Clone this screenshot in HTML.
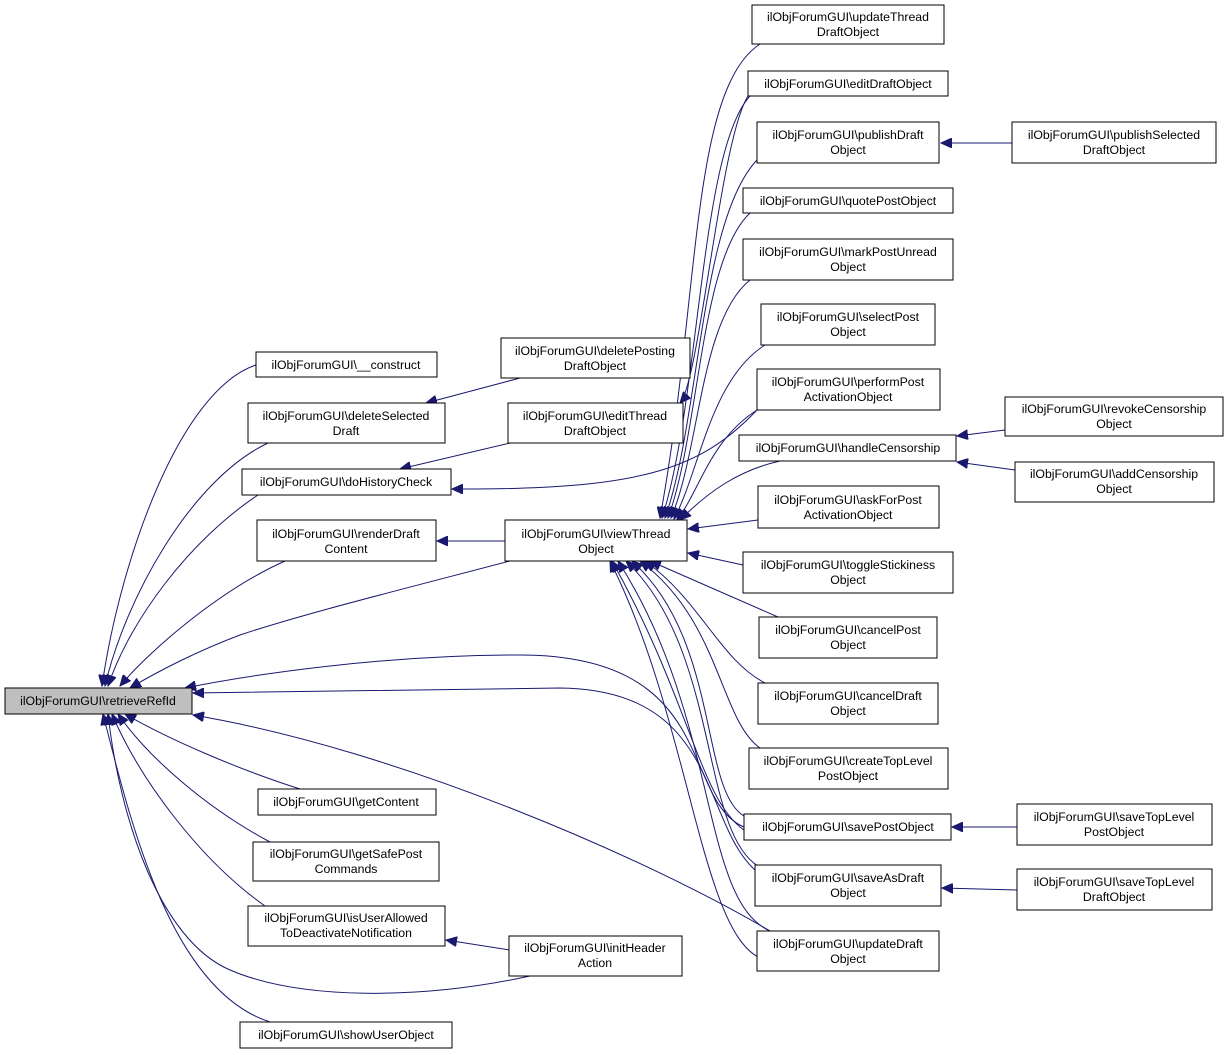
<!DOCTYPE html>
<html><head><meta charset="utf-8"><style>
body{margin:0;background:#fff}
svg{display:block}
text{font-family:"Liberation Sans",Arial,sans-serif;font-size:12.3px;fill:#000;text-anchor:middle}
rect{fill:#fff;stroke:#000;stroke-width:1}
path{fill:none;stroke:#191970;stroke-width:1}
</style></head><body>
<svg width="1229" height="1055" viewBox="0 0 1229 1055" xmlns="http://www.w3.org/2000/svg">
<defs><marker id="a" markerWidth="12" markerHeight="10" refX="11" refY="5" orient="auto" markerUnits="userSpaceOnUse"><path d="M0,0 L11,5 L0,10 Z" style="fill:#191970;stroke:#191970"/></marker></defs>
<g marker-end="url(#a)">
<path d="M256,365 C180,390 120,560 102,686"/>
<path d="M268,443 C190,480 125,600 105,686"/>
<path d="M258,495 C190,540 130,620 108,686"/>
<path d="M285,561 C220,590 150,650 120,686"/>
<path d="M510,561 C380,595 300,615 240,635 C200,650 160,670 130,688"/>
<path d="M744,827 C680,800 720,655 520,655 C380,655 250,675 185,688"/>
<path d="M755,870 C700,820 720,690 560,688 L193,693"/>
<path d="M770,931 C650,860 400,750 193,715"/>
<path d="M300,789 C240,770 170,740 125,714"/>
<path d="M270,842 C210,810 150,760 118,714"/>
<path d="M265,906 C200,860 140,780 112,714"/>
<path d="M530,976 C420,1000 300,1000 230,970 C160,940 120,820 108,714"/>
<path d="M270,1022 C170,990 130,820 103,714"/>
<path d="M520,378 L426,403"/>
<path d="M510,443 L400,469"/>
<path d="M505,541 L437,541"/>
<path d="M757,410 C700,470 640,490 452,489"/>
<path d="M748,96 C720,140 700,380 680,403"/>
<path d="M760,44 C690,90 700,300 660,518"/>
<path d="M750,96 C700,150 700,400 662,518"/>
<path d="M757,160 C700,220 700,420 665,518"/>
<path d="M750,213 C700,260 700,430 668,518"/>
<path d="M750,280 C700,320 700,450 671,518"/>
<path d="M765,345 C710,380 700,470 674,519"/>
<path d="M757,410 C710,440 700,490 677,520"/>
<path d="M780,461 C740,470 710,490 680,520"/>
<path d="M758,520 L688,529"/>
<path d="M743,565 L688,553"/>
<path d="M778,617 L650,561"/>
<path d="M765,683 C720,660 700,600 645,561"/>
<path d="M760,748 C720,720 720,620 640,561"/>
<path d="M744,816 C700,790 720,640 632,561"/>
<path d="M758,866 C700,830 720,650 626,561"/>
<path d="M770,931 C700,900 720,720 618,561"/>
<path d="M744,830 C700,800 690,700 612,561"/>
<path d="M760,958 C700,930 690,720 610,561"/>
<path d="M1012,143 L941,143"/>
<path d="M1005,430 L957,436"/>
<path d="M1015,470 L957,462"/>
<path d="M1017,827 L952,827"/>
<path d="M1017,890 L942,888"/>
<path d="M510,950 L446,940"/>
</g>
<rect x="5" y="688" width="187" height="26" style="fill:#bfbfbf"/><text x="98" y="705">ilObjForumGUI\retrieveRefId</text>
<rect x="256" y="352" width="181" height="25"/><text x="346" y="369">ilObjForumGUI\__construct</text>
<rect x="248" y="403" width="197" height="40"/><text x="346" y="420">ilObjForumGUI\deleteSelected</text><text x="346" y="435">Draft</text>
<rect x="242" y="469" width="209" height="26"/><text x="346" y="486">ilObjForumGUI\doHistoryCheck</text>
<rect x="257" y="520" width="179" height="41"/><text x="346" y="538">ilObjForumGUI\renderDraft</text><text x="346" y="553">Content</text>
<rect x="258" y="789" width="178" height="26"/><text x="346" y="806">ilObjForumGUI\getContent</text>
<rect x="253" y="842" width="186" height="39"/><text x="346" y="858">ilObjForumGUI\getSafePost</text><text x="346" y="873">Commands</text>
<rect x="248" y="906" width="197" height="40"/><text x="346" y="922">ilObjForumGUI\isUserAllowed</text><text x="346" y="937">ToDeactivateNotification</text>
<rect x="240" y="1022" width="212" height="26"/><text x="346" y="1039">ilObjForumGUI\showUserObject</text>
<rect x="501" y="338" width="189" height="40"/><text x="595" y="355">ilObjForumGUI\deletePosting</text><text x="595" y="370">DraftObject</text>
<rect x="508" y="403" width="175" height="40"/><text x="595" y="420">ilObjForumGUI\editThread</text><text x="595" y="435">DraftObject</text>
<rect x="505" y="520" width="182" height="41"/><text x="596" y="538">ilObjForumGUI\viewThread</text><text x="596" y="553">Object</text>
<rect x="509" y="936" width="173" height="40"/><text x="595" y="952">ilObjForumGUI\initHeader</text><text x="595" y="967">Action</text>
<rect x="752" y="5" width="192" height="39"/><text x="848" y="21">ilObjForumGUI\updateThread</text><text x="848" y="36">DraftObject</text>
<rect x="748" y="71" width="200" height="25"/><text x="848" y="88">ilObjForumGUI\editDraftObject</text>
<rect x="757" y="122" width="182" height="41"/><text x="848" y="139">ilObjForumGUI\publishDraft</text><text x="848" y="154">Object</text>
<rect x="743" y="188" width="210" height="25"/><text x="848" y="205">ilObjForumGUI\quotePostObject</text>
<rect x="743" y="239" width="210" height="41"/><text x="848" y="256">ilObjForumGUI\markPostUnread</text><text x="848" y="271">Object</text>
<rect x="761" y="304" width="174" height="41"/><text x="848" y="321">ilObjForumGUI\selectPost</text><text x="848" y="336">Object</text>
<rect x="757" y="369" width="183" height="41"/><text x="848" y="386">ilObjForumGUI\performPost</text><text x="848" y="401">ActivationObject</text>
<rect x="739" y="435" width="217" height="26"/><text x="848" y="452">ilObjForumGUI\handleCensorship</text>
<rect x="758" y="486" width="181" height="42"/><text x="848" y="504">ilObjForumGUI\askForPost</text><text x="848" y="519">ActivationObject</text>
<rect x="743" y="552" width="210" height="41"/><text x="848" y="569">ilObjForumGUI\toggleStickiness</text><text x="848" y="584">Object</text>
<rect x="759" y="617" width="178" height="41"/><text x="848" y="634">ilObjForumGUI\cancelPost</text><text x="848" y="649">Object</text>
<rect x="758" y="683" width="180" height="41"/><text x="848" y="700">ilObjForumGUI\cancelDraft</text><text x="848" y="715">Object</text>
<rect x="749" y="748" width="199" height="41"/><text x="848" y="765">ilObjForumGUI\createTopLevel</text><text x="848" y="780">PostObject</text>
<rect x="744" y="814" width="207" height="26"/><text x="848" y="831">ilObjForumGUI\savePostObject</text>
<rect x="755" y="865" width="186" height="41"/><text x="848" y="882">ilObjForumGUI\saveAsDraft</text><text x="848" y="897">Object</text>
<rect x="757" y="931" width="182" height="40"/><text x="848" y="948">ilObjForumGUI\updateDraft</text><text x="848" y="963">Object</text>
<rect x="1012" y="122" width="204" height="41"/><text x="1114" y="139">ilObjForumGUI\publishSelected</text><text x="1114" y="154">DraftObject</text>
<rect x="1005" y="397" width="218" height="39"/><text x="1114" y="413">ilObjForumGUI\revokeCensorship</text><text x="1114" y="428">Object</text>
<rect x="1015" y="462" width="199" height="40"/><text x="1114" y="478">ilObjForumGUI\addCensorship</text><text x="1114" y="493">Object</text>
<rect x="1017" y="804" width="195" height="41"/><text x="1114" y="821">ilObjForumGUI\saveTopLevel</text><text x="1114" y="836">PostObject</text>
<rect x="1017" y="869" width="195" height="41"/><text x="1114" y="886">ilObjForumGUI\saveTopLevel</text><text x="1114" y="901">DraftObject</text>
</svg>
</body></html>
